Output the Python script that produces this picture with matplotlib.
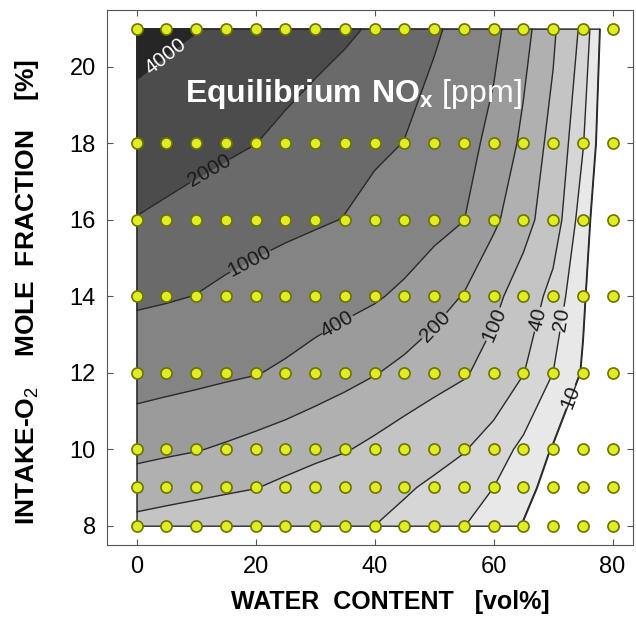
import numpy as np
import matplotlib
matplotlib.use("Agg")
import matplotlib.pyplot as plt
from matplotlib.colors import ListedColormap, BoundaryNorm

plt.rcParams["font.family"] = ["Liberation Sans", "DejaVu Sans"]
plt.rcParams["mathtext.fontset"] = "custom"
plt.rcParams["mathtext.rm"] = "Liberation Sans"
plt.rcParams["mathtext.bf"] = "Liberation Sans:bold"

# grid of computed points
water = [0, 5, 10, 15, 20, 25, 30, 35, 40, 45, 50, 55, 60, 65, 70, 75, 80]
o2 = [8, 9, 10, 12, 14, 16, 18, 21]

# equilibrium NOx [ppm], one row per O2 level
nox_o2_8 = [81, 74, 68, 62, 57, 52, 48, 44, 40, 32, 25.5, 20.4, 14, 9.6, 6.6, 4.5, 3.2]
nox_o2_9 = [145, 132, 121, 111, 102, 87, 74, 62, 52, 44, 35, 27, 20, 12.4, 7.7, 4.8, 3]
nox_o2_10 = [244, 224, 207, 184, 160, 139, 120, 105, 85, 67, 53, 42, 28, 17, 9.4, 5, 2.8]
nox_o2_12 = [562, 520, 482, 446, 413, 358, 298, 248, 207, 168, 135, 109, 72, 41, 20, 9.3, 4.3]
nox_o2_14 = [1140, 1070, 986, 859, 748, 651, 567, 494, 430, 350, 262, 193, 123, 67, 31, 11, 3.6]
nox_o2_16 = [1960, 1780, 1610, 1465, 1330, 1205, 1090, 977, 782, 625, 500, 405, 224, 135, 62, 14, 3.5]
nox_o2_18 = [2890, 2640, 2410, 2200, 2010, 1745, 1515, 1318, 1145, 986, 706, 505, 331, 174, 79, 21, 3.8]
nox_o2_21 = [5200, 4550, 4080, 3600, 3180, 2800, 2480, 2190, 1870, 1450, 1120, 768, 478, 253, 114, 33, 4]

levels = [10, 20, 40, 100, 200, 400, 1000, 2000, 4000]
band_colors = ["#e8e8e8", "#d6d6d6", "#c4c4c4", "#b0b0b0", "#9b9b9b",
               "#848484", "#6a6a6a", "#4c4c4c"]
top_color = "#262626"

# label anchor positions (data coords)
label_pos = [(5.2, 20.2), (13.8, 16.85), (19.5, 14.8), (35.1, 12.9), (51, 13.1),
             (59.4, 13.3), (67.3, 13.4), (71.6, 13.4), (72.5, 11.4)]

Z = np.array([nox_o2_8, nox_o2_9, nox_o2_10, nox_o2_12,
              nox_o2_14, nox_o2_16, nox_o2_18, nox_o2_21])
X, Y = np.meshgrid(water, o2)
L = np.log10(Z)
lv = np.log10(levels)

fig = plt.figure(figsize=(6.36, 6.17), dpi=100)
ax = fig.add_axes([0.168, 0.117, 0.827, 0.8675])

cmap = ListedColormap(band_colors)
cmap.set_over(top_color)
norm = BoundaryNorm(lv, cmap.N)
ax.contourf(X, Y, L, levels=lv, cmap=cmap, norm=norm, extend="max")

# outline of the filled area (data border + lowest level)
outline = ax.contourf(X, Y, L, levels=[lv[0], L.max() + 1], colors="none")
outline.set_edgecolor("#2a2a2a")
outline.set_linewidth(1.0)

cs = ax.contour(X, Y, L, levels=lv, colors="#2a2a2a", linewidths=1.0)
lbl = ax.clabel(cs, fmt=lambda v: f"{10**v:.0f}", fontsize=15,
                inline=True, inline_spacing=2, manual=label_pos)
for t in lbl:
    t.set_color("white" if t.get_text() == "4000" else "#1a1a1a")

ax.plot(X.ravel(), Y.ravel(), "o", ls="none", ms=8, mfc="#e2ec22",
        mec="#6b7400", mew=1.2, zorder=5, clip_on=False)

ax.text(8.2, 19.07, r"$\mathbf{Equilibrium\ NO_x}$ [ppm]", color="white",
        fontsize=23, va="baseline", ha="left", zorder=6)

ax.set_xlim(-5, 83.4)
ax.set_ylim(7.5, 21.5)
ax.set_xticks([0, 20, 40, 60, 80])
ax.set_yticks([8, 10, 12, 14, 16, 18, 20])
ax.tick_params(direction="in", length=4, labelsize=17, top=True, right=True,
               color="#555555", pad=8)
for s in ax.spines.values():
    s.set_color("#555555")

ax.set_xlabel("WATER  CONTENT   [vol%]", fontsize=18, fontweight="bold")
ax.xaxis.set_label_coords(0.538, -0.085)
ax.set_ylabel(r"INTAKE-O$_2$    MOLE  FRACTION    [%]", fontsize=19,
              fontweight="bold")
ax.yaxis.set_label_coords(-0.125, 0.472)

fig.savefig("out.png", dpi=100)
